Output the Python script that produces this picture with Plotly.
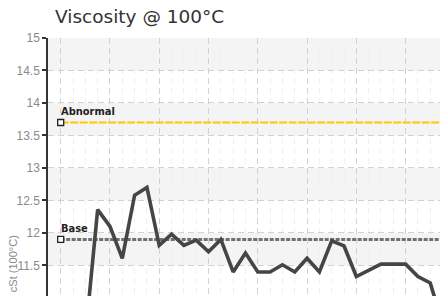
import plotly.graph_objects as go

# ---- data ----
sample_index = list(range(2, 32))
viscosity = [10.4, 12.36, 12.1, 11.61, 12.58, 12.70, 11.81, 11.98, 11.81, 11.89,
             11.71, 11.90, 11.40, 11.69, 11.40, 11.40, 11.51, 11.40, 11.61, 11.40,
             11.88, 11.80, 11.33, 11.42, 11.52, 11.52, 11.52, 11.33, 11.23, 10.6]
limit_x = [0, 31]
abnormal_value = 13.7
base_value = 11.9
y_ticks = [11, 11.5, 12, 12.5, 13, 13.5, 14, 14.5, 15]
y_tick_labels = ["11", "11.5", "12", "12.5", "13", "13.5", "14", "14.5", "15"]
band_edges = [(10.5, 11), (11.5, 12), (12.5, 13), (13.5, 14), (14.5, 15)]

fig = go.Figure()

# limit lines
fig.add_trace(go.Scatter(x=limit_x, y=[abnormal_value] * 2, mode="lines",
                         line=dict(color="#FFC800", width=2.2, dash="8px,1.5px"),
                         hoverinfo="skip", showlegend=False))
fig.add_trace(go.Scatter(x=limit_x, y=[base_value] * 2, mode="lines",
                         line=dict(color="#707070", width=3, dash="4px,1.5px"),
                         hoverinfo="skip", showlegend=False))
# limit start markers
fig.add_trace(go.Scatter(x=[limit_x[0], limit_x[0]], y=[abnormal_value, base_value],
                         mode="markers",
                         marker=dict(symbol="square", size=6, color="white",
                                     line=dict(color="#222", width=1.3)),
                         hoverinfo="skip", showlegend=False))
# data line
fig.add_trace(go.Scatter(x=sample_index, y=viscosity, mode="lines",
                         line=dict(color="#454545", width=3.6),
                         showlegend=False))

shapes = []
for lo, hi in band_edges:
    shapes.append(dict(type="rect", xref="paper", yref="y", x0=0, x1=1, y0=lo, y1=hi,
                       fillcolor="#f4f4f4", line=dict(width=0), layer="below"))

label_font = dict(family="DejaVu Sans Condensed, DejaVu Sans", size=11, color="#222",
                  weight="bold")
annotations = [
    dict(x=limit_x[0], y=abnormal_value, xref="x", yref="y", text="Abnormal",
         showarrow=False, xanchor="left", yanchor="bottom", xshift=-2, yshift=2,
         font=label_font),
    dict(x=limit_x[0], y=base_value, xref="x", yref="y", text="Base",
         showarrow=False, xanchor="left", yanchor="bottom", xshift=-2, yshift=2,
         font=label_font),
    dict(x=-0.0875, y=11.52, xref="paper", yref="y", text="cSt (100°C)", textangle=-90,
         showarrow=False, xanchor="center", yanchor="middle",
         font=dict(family="Liberation Sans Narrow, Liberation Sans", size=11, color="#888")),
]

fig.update_layout(
    width=448, height=296,
    margin=dict(l=40, r=8, t=30, b=8, pad=0),
    paper_bgcolor="white", plot_bgcolor="white",
    title=dict(text="Viscosity @ 100°C", x=47 / 448, xanchor="left", y=1 - 9 / 296,
               yanchor="middle",
               font=dict(family="DejaVu Sans", size=18.5, color="#333")),
    shapes=shapes, annotations=annotations,
    xaxis=dict(range=[-1.03, 31.44], showticklabels=False, ticks="", zeroline=False,
               showline=False, tick0=0, dtick=4, showgrid=True, gridcolor="#d2d2d2",
               griddash="6px,4px", gridwidth=1,
               minor=dict(dtick=1, tick0=0, showgrid=True, gridcolor="#f0f0f0",
                          griddash="6px,4px", gridwidth=1)),
    yaxis=dict(range=[11.03, 15], tickvals=y_ticks, ticktext=y_tick_labels,
               showline=True, linecolor="#333", linewidth=1.5,
               ticks="outside", ticklen=4, tickcolor="#333", tickwidth=1.5,
               tickfont=dict(family="Liberation Sans", size=12, color="#8a8a8a"),
               showgrid=True, gridcolor="#d2d2d2", griddash="6px,4px", gridwidth=1,
               zeroline=False),
)

fig.write_html("out.html")
